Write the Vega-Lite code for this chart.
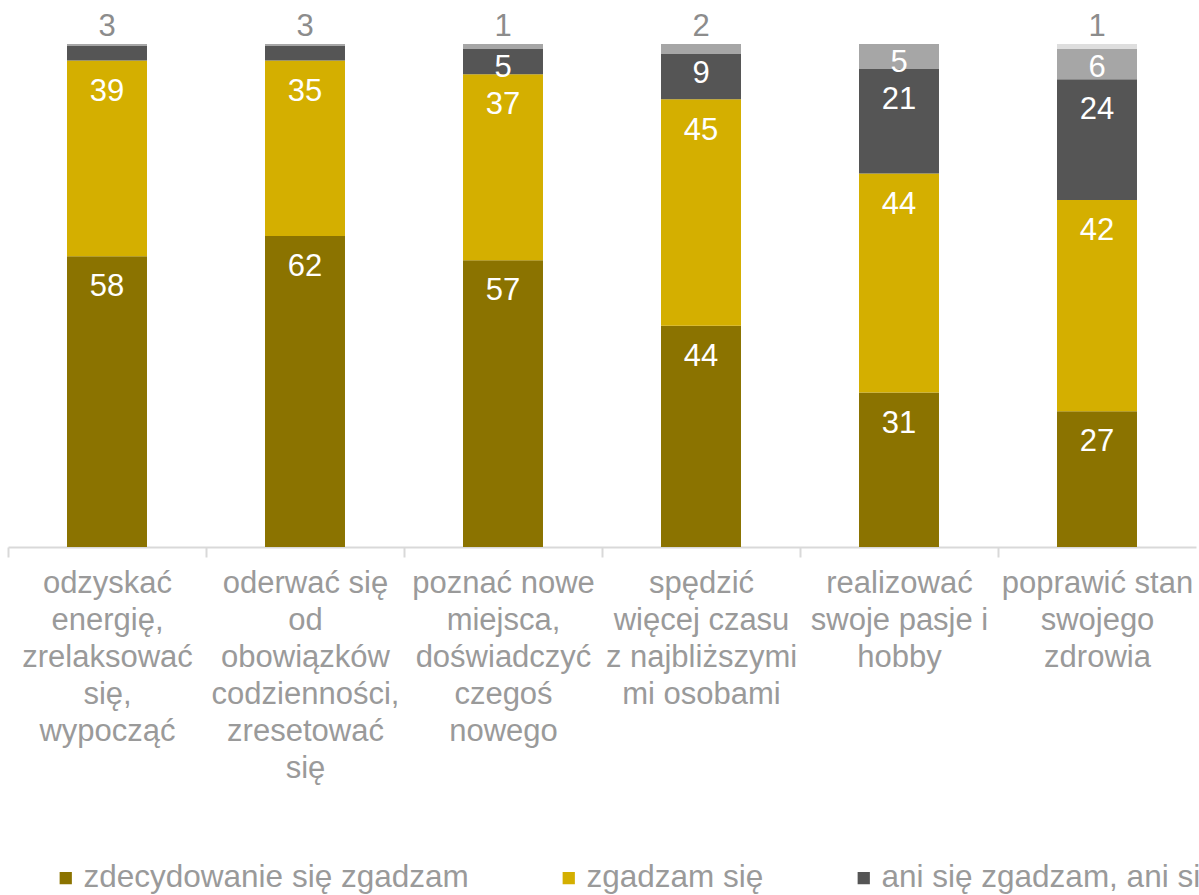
{
  "$schema": "https://vega.github.io/schema/vega-lite/v6.json",
  "autosize": {"type": "none"},
  "padding": {"left": 8, "top": 44, "right": 3, "bottom": 348},
  "width": 1188,
  "height": 503,
  "background": "white",
  "config": {"view": {"stroke": null}, "font": "Liberation Sans"},
  "data": {
    "values": [
      {"cat": "odzyskać|energię,|zrelaksować|się,|wypocząć", "s": "zdecydowanie się zgadzam", "v": 58},
      {"cat": "odzyskać|energię,|zrelaksować|się,|wypocząć", "s": "zgadzam się", "v": 39},
      {"cat": "odzyskać|energię,|zrelaksować|się,|wypocząć", "s": "ani się zgadzam, ani się nie zgadzam", "v": 3},
      {"cat": "odzyskać|energię,|zrelaksować|się,|wypocząć", "s": "nie zgadzam się", "v": 0.3},
      {"cat": "oderwać się|od|obowiązków|codzienności,|zresetować|się", "s": "zdecydowanie się zgadzam", "v": 62},
      {"cat": "oderwać się|od|obowiązków|codzienności,|zresetować|się", "s": "zgadzam się", "v": 35},
      {"cat": "oderwać się|od|obowiązków|codzienności,|zresetować|się", "s": "ani się zgadzam, ani się nie zgadzam", "v": 3},
      {"cat": "oderwać się|od|obowiązków|codzienności,|zresetować|się", "s": "nie zgadzam się", "v": 0.3},
      {"cat": "poznać nowe|miejsca,|doświadczyć|czegoś|nowego", "s": "zdecydowanie się zgadzam", "v": 57},
      {"cat": "poznać nowe|miejsca,|doświadczyć|czegoś|nowego", "s": "zgadzam się", "v": 37},
      {"cat": "poznać nowe|miejsca,|doświadczyć|czegoś|nowego", "s": "ani się zgadzam, ani się nie zgadzam", "v": 5},
      {"cat": "poznać nowe|miejsca,|doświadczyć|czegoś|nowego", "s": "nie zgadzam się", "v": 1},
      {"cat": "spędzić|więcej czasu|z najbliższymi|mi osobami", "s": "zdecydowanie się zgadzam", "v": 44},
      {"cat": "spędzić|więcej czasu|z najbliższymi|mi osobami", "s": "zgadzam się", "v": 45},
      {"cat": "spędzić|więcej czasu|z najbliższymi|mi osobami", "s": "ani się zgadzam, ani się nie zgadzam", "v": 9},
      {"cat": "spędzić|więcej czasu|z najbliższymi|mi osobami", "s": "nie zgadzam się", "v": 2},
      {"cat": "realizować|swoje pasje i|hobby", "s": "zdecydowanie się zgadzam", "v": 31},
      {"cat": "realizować|swoje pasje i|hobby", "s": "zgadzam się", "v": 44},
      {"cat": "realizować|swoje pasje i|hobby", "s": "ani się zgadzam, ani się nie zgadzam", "v": 21},
      {"cat": "realizować|swoje pasje i|hobby", "s": "nie zgadzam się", "v": 5},
      {"cat": "poprawić stan|swojego|zdrowia", "s": "zdecydowanie się zgadzam", "v": 27},
      {"cat": "poprawić stan|swojego|zdrowia", "s": "zgadzam się", "v": 42},
      {"cat": "poprawić stan|swojego|zdrowia", "s": "ani się zgadzam, ani się nie zgadzam", "v": 24},
      {"cat": "poprawić stan|swojego|zdrowia", "s": "nie zgadzam się", "v": 6},
      {"cat": "poprawić stan|swojego|zdrowia", "s": "zdecydowanie się nie zgadzam", "v": 1}
    ]
  },
  "transform": [
    {"calculate": "indexof(['zdecydowanie się zgadzam','zgadzam się','ani się zgadzam, ani się nie zgadzam','nie zgadzam się','zdecydowanie się nie zgadzam'], datum.s)", "as": "k"},
    {"stack": "v", "groupby": ["cat"], "sort": [{"field": "k", "order": "ascending"}], "offset": "normalize", "as": ["y0", "y1"]},
    {"calculate": "datum.y1 - min(0.062, max(0.037, (datum.y1 - datum.y0) * 0.45))", "as": "ly"}
  ],
  "encoding": {
    "x": {
      "field": "cat",
      "type": "nominal",
      "sort": [
        "odzyskać|energię,|zrelaksować|się,|wypocząć",
        "oderwać się|od|obowiązków|codzienności,|zresetować|się",
        "poznać nowe|miejsca,|doświadczyć|czegoś|nowego",
        "spędzić|więcej czasu|z najbliższymi|mi osobami",
        "realizować|swoje pasje i|hobby",
        "poprawić stan|swojego|zdrowia"
      ],
      "scale": {"paddingInner": 0.596, "paddingOuter": 0.298},
      "axis": {
        "title": null,
        "labelExpr": "split(datum.label, '|')",
        "labelAngle": 0,
        "labelFont": "Liberation Sans",
        "labelFontSize": 31,
        "labelColor": "#9a9a9a",
        "labelLineHeight": 37,
        "labelPadding": 11,
        "labelLimit": 0,
        "labelOverlap": false,
        "labelBound": false,
        "domainColor": "#d9d9d9",
        "domainWidth": 2,
        "tickColor": "#d9d9d9",
        "tickWidth": 2,
        "tickSize": 10,
        "bandPosition": 0,
        "tickOffset": -59,
        "labelOffset": 59
      }
    }
  },
  "layer": [
    {
      "mark": {"type": "bar"},
      "encoding": {
        "y": {"field": "y0", "type": "quantitative", "scale": {"domain": [0, 1]}, "axis": null},
        "y2": {"field": "y1"},
        "color": {
          "field": "s",
          "type": "nominal",
          "scale": {
            "domain": ["zdecydowanie się zgadzam", "zgadzam się", "ani się zgadzam, ani się nie zgadzam", "nie zgadzam się", "zdecydowanie się nie zgadzam"],
            "range": ["#8b7300", "#d4af00", "#555555", "#a6a6a6", "#dedede"]
          },
          "legend": {
            "orient": "none",
            "legendX": 42,
            "legendY": 818,
            "direction": "horizontal",
            "columns": 5,
            "title": null,
            "symbolType": "square",
            "symbolSize": 150,
            "symbolStrokeWidth": 0,
            "labelFont": "Liberation Sans",
            "labelFontSize": 31.5,
            "labelColor": "#9a9a9a",
            "labelLimit": 0,
            "labelOffset": 2,
            "columnPadding": 84,
            "padding": 0
          }
        }
      }
    },
    {
      "transform": [{"filter": "datum.v >= 5"}],
      "mark": {"type": "text", "color": "white", "fontSize": 31, "baseline": "middle", "font": "Liberation Sans"},
      "encoding": {
        "y": {"field": "ly", "type": "quantitative", "scale": {"domain": [0, 1]}, "axis": null},
        "text": {"field": "v", "type": "quantitative", "format": "d"}
      }
    },
    {
      "transform": [{"filter": "datum.v >= 1 && datum.v < 5"}],
      "mark": {"type": "text", "color": "#8c8c8c", "fontSize": 31, "baseline": "middle", "dy": -17, "font": "Liberation Sans"},
      "encoding": {
        "y": {"datum": 1, "type": "quantitative", "scale": {"domain": [0, 1]}, "axis": null},
        "text": {"field": "v", "type": "quantitative", "format": "d"}
      }
    }
  ]
}
